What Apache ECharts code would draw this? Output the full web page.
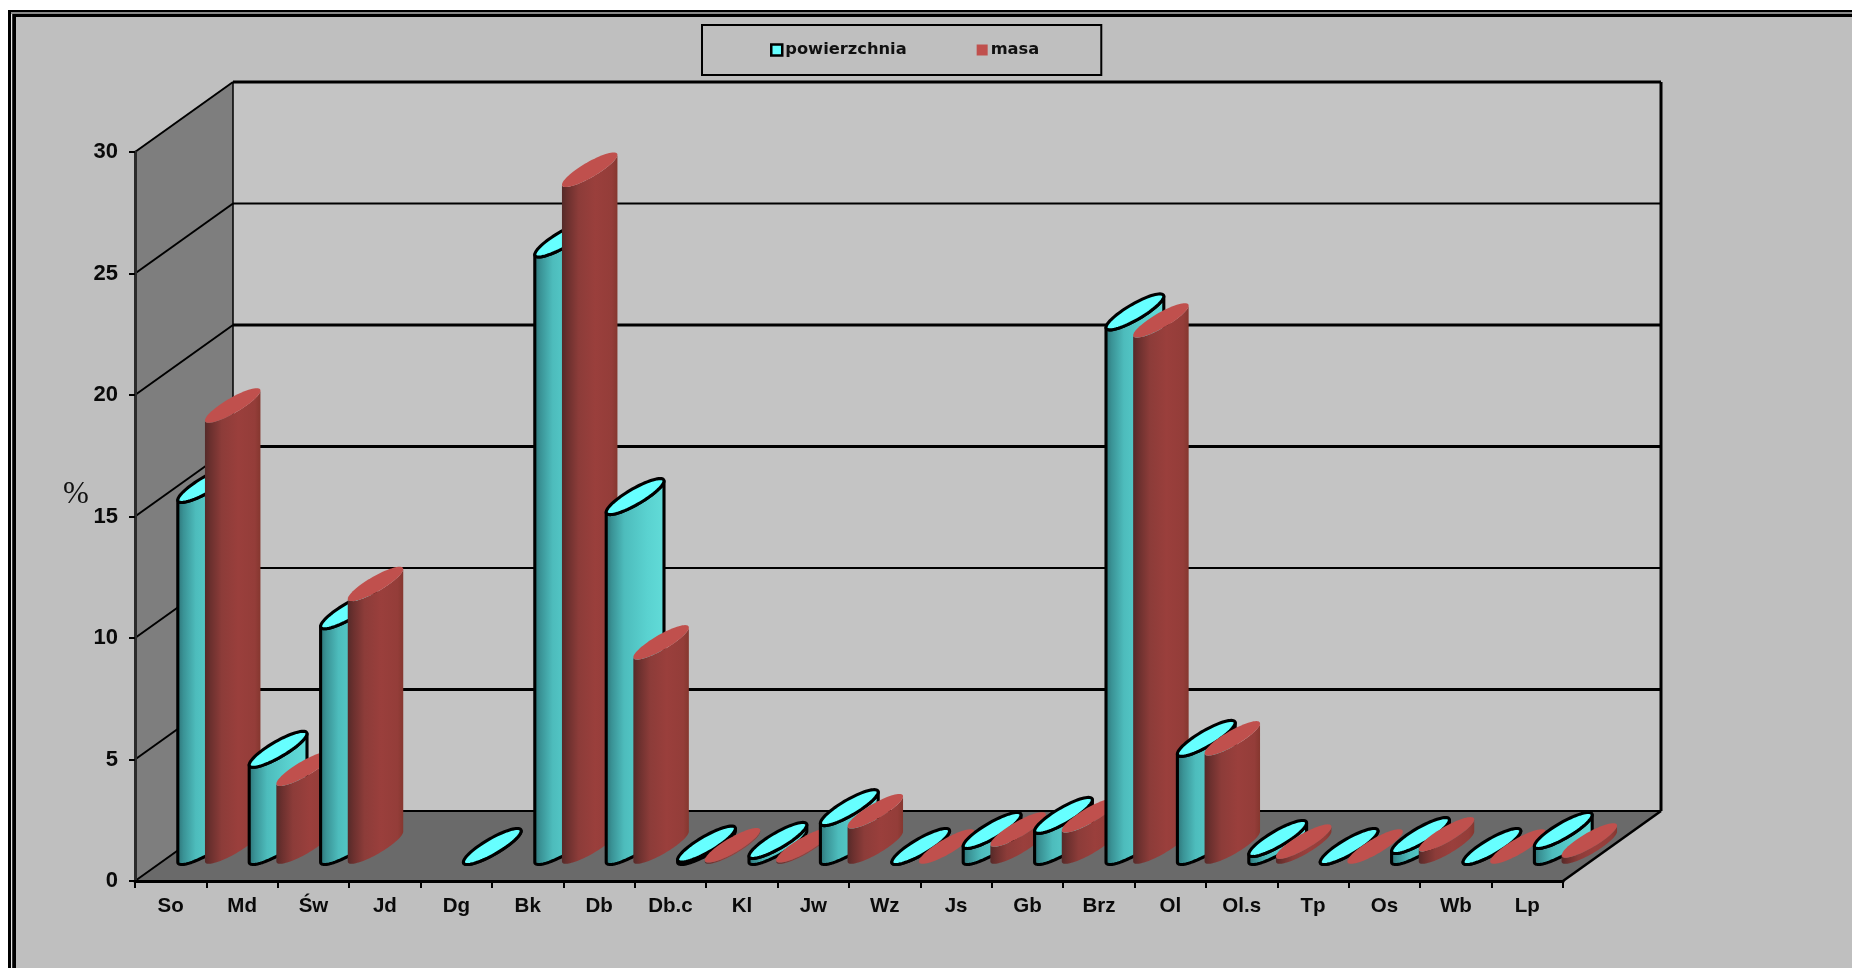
<!DOCTYPE html>
<html>
<head>
<meta charset="utf-8">
<style>
  html, body { margin: 0; padding: 0; background: #fff; }
  #chart { width: 1852px; height: 968px; }
</style>
<script src="https://cdn.jsdelivr.net/npm/echarts@6/dist/echarts.min.js"></script>
</head>
<body>
<div id="chart"></div>
<script>
// Udział gatunków: powierzchnia i masa, w procentach.
const categories = ['So', 'Md', 'Św', 'Jd', 'Dg', 'Bk', 'Db', 'Db.c', 'Kl', 'Jw', 'Wz', 'Js', 'Gb', 'Brz', 'Ol', 'Ol.s', 'Tp', 'Os', 'Wb', 'Lp'];
const powierzchnia = [14.9, 4.0, 9.7, null, 0, 25.0, 14.4, 0.1, 0.25, 1.6, 0, 0.66, 1.28, 22.0, 4.45, 0.33, 0, 0.45, 0, 0.66];
const masa = [18.15, 3.2, 10.8, null, null, 27.85, 8.4, 0.05, 0.05, 1.45, 0, 0.7, 1.28, 21.65, 4.45, 0.2, 0, 0.5, 0, 0.25];
const yTicks = [0, 5, 10, 15, 20, 25, 30];

// Oblique projection of the chart box.
const DEPTH = [98, -70];
const MID = [DEPTH[0] / 2, DEPTH[1] / 2 + 0.5];
const CYL_A = 14.5;            // half width of a cylinder along the category axis
const CYL_B = [25, -18];       // half depth of a cylinder along the box diagonal
const CYL_SHIFT = 13;          // distance of each cylinder from the cluster centre
const T_SIL = Math.atan2(CYL_B[0], CYL_A);

function ringPoint(cx, cy, t, k) {
  return [cx + k * (CYL_A * Math.cos(t) + CYL_B[0] * Math.sin(t)), cy + k * CYL_B[1] * Math.sin(t)];
}
function ellipsePoints(cx, cy, k) {
  const pts = [];
  for (let i = 0; i < 72; i++) pts.push(ringPoint(cx, cy, i / 72 * 2 * Math.PI, k));
  return pts;
}
// Outline of the visible side of a cylinder: the front arcs of the base and of the top.
function bodyPoints(cx, yBase, yTop, k) {
  const pts = [];
  const start = T_SIL + Math.PI, steps = 48;
  for (let i = 0; i <= steps; i++) pts.push(ringPoint(cx, yBase, start + i / steps * Math.PI, k));
  for (let i = steps; i >= 0; i--) pts.push(ringPoint(cx, yTop, start + i / steps * Math.PI, k));
  return pts;
}
const hGrad = (stops) => new echarts.graphic.LinearGradient(0, 0, 1, 0, stops.map((c) => ({ offset: c[0], color: c[1] })));

function cylinderRenderer(seriesIndex, look) {
  return function (params, api) {
    const v = api.value(1);
    if (v == null || isNaN(v)) return;
    const cat = api.value(0);
    const base = api.coord([cat, 0]);
    const top = api.coord([cat, v]);
    const cx = base[0] + MID[0] + (seriesIndex === 0 ? -CYL_SHIFT : CYL_SHIFT);
    const yBase = base[1] + MID[1];
    const yTop = top[1] + MID[1];
    const order = cat * 4 + seriesIndex * 2;
    return {
      type: 'group',
      children: [
        {
          type: 'polygon',
          z2: order,
          shape: { points: bodyPoints(cx, yBase, yTop, look.scale) },
          style: { fill: hGrad(look.side), stroke: look.stroke, lineWidth: look.lineWidth, lineJoin: 'round' }
        },
        {
          type: 'polygon',
          z2: order + 1,
          shape: { points: ellipsePoints(cx, yTop, look.scale) },
          style: { fill: look.cap, stroke: look.stroke, lineWidth: look.lineWidth }
        }
      ]
    };
  };
}

// Back wall, side wall and floor of the chart box, with the gridlines that run over them.
function renderBox(params, api) {
  const g = params.coordSys;
  const x0 = g.x, x1 = g.x + g.width;
  const yAt = (v) => api.coord([0, v])[1];
  const y0 = yAt(0), yMax = yAt(30);
  const dx = DEPTH[0], dy = DEPTH[1];
  const kids = [];
  const poly = (points, fill) => kids.push({ type: 'polygon', shape: { points }, style: { fill, stroke: null } });
  const line = (a, b, w) => kids.push({
    type: 'line',
    shape: { x1: a[0], y1: a[1], x2: b[0], y2: b[1] },
    style: { stroke: '#000', lineWidth: w }
  });
  poly([[x0 + dx, yMax + dy], [x1 + dx, yMax + dy], [x1 + dx, y0 + dy], [x0 + dx, y0 + dy]], '#c4c4c4');
  poly([[x0, yMax], [x0 + dx, yMax + dy], [x0 + dx, y0 + dy], [x0, y0]], '#7e7e7e');
  poly([[x0, y0], [x0 + dx, y0 + dy], [x1 + dx, y0 + dy], [x1, y0]], '#6a6a6a');
  yTicks.forEach((v) => {
    const y = yAt(v);
    const thin = v === 25 || v === 10 || v === 0;
    line([x0 + dx, y + dy], [x1 + dx, y + dy], thin ? 2 : 3);
    line([x0, y], [x0 + dx, y + dy], 2);
  });
  line([x0 + dx, yMax + dy], [x0 + dx, y0 + dy], 1.5);
  line([x1 + dx, yMax + dy], [x1 + dx, y0 + dy], 3);
  line([x1, y0], [x1 + dx, y0 + dy], 2.5);
  return { type: 'group', children: kids };
}

// Double frame of the chart area, built as nested rectangles open to the right and bottom.
const frameRect = (x, y, fill, z) => ({ type: 'rect', z, silent: true, shape: { x, y, width: 2400, height: 1600 }, style: { fill } });

const chart = echarts.init(document.getElementById('chart'));
chart.setOption({
  animation: false,
  backgroundColor: '#ffffff',
  graphic: [
    frameRect(8, 10, '#000', -14),
    frameRect(11, 12, '#8a8a8a', -13),
    { type: 'rect', z: -13, silent: true, shape: { x: 11, y: 14, width: 1.3, height: 1600 }, style: { fill: '#e6e6e6' } },
    frameRect(12.3, 14, '#000', -12),
    frameRect(16, 17, '#bfbfbf', -11),
    { type: 'text', z: 6, silent: true, x: 76, y: 495, style: { text: '%', fontFamily: 'Liberation Serif', fontSize: 31, fill: '#111', align: 'center', verticalAlign: 'middle' } }
  ],
  legend: {
    left: 702,
    top: 25,
    padding: [17, 62, 17, 68],
    borderColor: '#000',
    borderWidth: 2,
    itemWidth: 11,
    itemHeight: 11,
    itemGap: 70,
    selectedMode: false,
    textStyle: { fontFamily: 'DejaVu Sans', fontWeight: 'bold', fontSize: 16.3, color: '#111', padding: [0, 0, 0, -2] },
    data: [
      { name: 'powierzchnia', icon: 'rect', itemStyle: { color: '#66ffff', borderColor: '#000', borderWidth: 2.5 } },
      { name: 'masa', icon: 'rect', itemStyle: { color: '#c0504d', borderWidth: 0 } }
    ]
  },
  grid: { left: 135, width: 1428, top: 152, height: 729 },
  xAxis: {
    type: 'category',
    data: categories,
    z: 5,
    axisLine: { lineStyle: { color: '#000', width: 3 } },
    axisTick: { show: true, length: 7, lineStyle: { color: '#000', width: 2 } },
    axisLabel: { interval: 0, margin: 15, color: '#0a0a0a', fontFamily: 'Liberation Sans', fontWeight: 'bold', fontSize: 20.5 }
  },
  yAxis: {
    type: 'value',
    min: 0,
    max: 30,
    interval: 5,
    z: 5,
    splitLine: { show: false },
    axisLine: { show: true, lineStyle: { color: '#2a2a2a', width: 3 } },
    axisTick: { show: true, length: 6, lineStyle: { color: '#000', width: 2 } },
    axisLabel: { margin: 17, color: '#0a0a0a', fontFamily: 'Liberation Sans', fontWeight: 'bold', fontSize: 22 }
  },
  series: [
    {
      type: 'custom',
      name: 'box',
      z: 1,
      silent: true,
      data: [[0, 0]],
      encode: { x: 0, y: 1 },
      renderItem: renderBox
    },
    {
      type: 'custom',
      name: 'powierzchnia',
      z: 2,
      itemStyle: { color: '#66ffff' },
      data: powierzchnia.map((v, i) => [i, v]),
      encode: { x: 0, y: 1 },
      renderItem: cylinderRenderer(0, {
        side: [[0, '#2b6e72'], [0.12, '#3a9396'], [0.32, '#4dbcbc'], [0.7, '#5ad2d0'], [1, '#62dcd9']],
        cap: '#66ffff',
        stroke: '#000',
        lineWidth: 3.1,
        scale: 1
      })
    },
    {
      type: 'custom',
      name: 'masa',
      z: 2,
      itemStyle: { color: '#c0504d' },
      data: masa.map((v, i) => [i, v]),
      encode: { x: 0, y: 1 },
      renderItem: cylinderRenderer(1, {
        side: [[0, '#552a29'], [0.1, '#6b302e'], [0.3, '#8c3c39'], [0.6, '#9a3f3c'], [0.9, '#943d39'], [1, '#85372f']],
        cap: '#c0504d',
        stroke: null,
        lineWidth: 0,
        scale: 0.96
      })
    }
  ]
});
</script>
</body>
</html>
